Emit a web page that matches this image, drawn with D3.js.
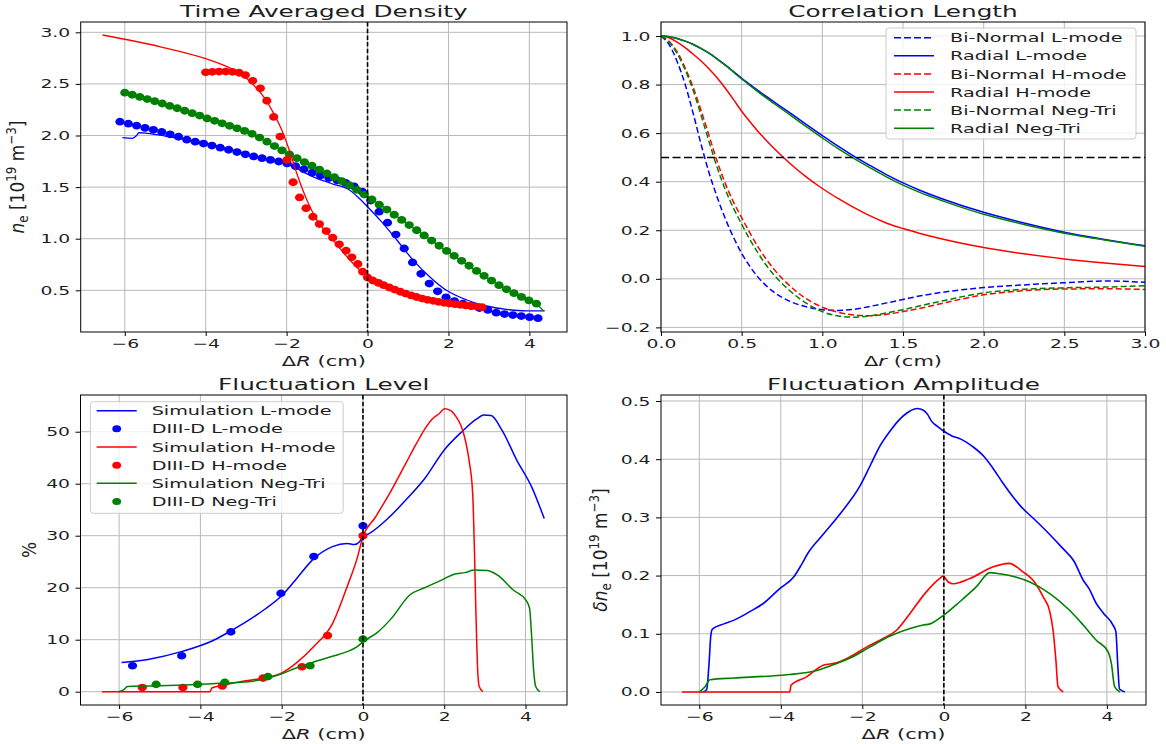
<!DOCTYPE html>
<html>
<head>
<meta charset="utf-8">
<script src="https://cdn.jsdelivr.net/npm/d3@7"></script>
<style>
  body { margin: 0; background: #fff; }
  svg text { font-family: "DejaVu Sans", sans-serif; fill: #1e1e1e; }
</style>
</head>
<body>
<svg id="fig" width="1166" height="744"></svg>
<script>
// ---------------- Time averaged density (x: ΔR cm, y: 1e19 m^-3) ----------------
const densLmodeSim = [[-6.06,1.979],[-5.81,1.973],[-5.72,1.995],[-5.65,2.027],[-5.44,2.021],[-5.0,1.995],[-4.5,1.962],[-4.0,1.925],[-3.5,1.875],[-3.0,1.82],[-2.5,1.765],[-2.0,1.725],[-1.34,1.60],[-0.9,1.535],[-0.43,1.468],[-0.2,1.39],[0.0,1.31],[0.31,1.18],[0.72,0.99],[1.13,0.79],[1.54,0.63],[1.95,0.50],[2.45,0.406],[2.94,0.348],[3.43,0.316],[3.92,0.30],[4.38,0.30]];
const densLmodeExp = [[-6.12,2.134],[-5.913,2.115],[-5.707,2.095],[-5.50,2.074],[-5.294,2.055],[-5.087,2.035],[-4.88,2.012],[-4.674,1.988],[-4.467,1.960],[-4.26,1.940],[-4.054,1.922],[-3.847,1.903],[-3.64,1.882],[-3.434,1.862],[-3.227,1.840],[-3.02,1.818],[-2.814,1.797],[-2.607,1.780],[-2.40,1.764],[-2.194,1.748],[-1.987,1.730],[-1.78,1.702],[-1.574,1.672],[-1.367,1.640],[-1.16,1.612],[-0.954,1.588],[-0.747,1.565],[-0.54,1.540],[-0.334,1.508],[-0.127,1.455],[0.08,1.370],[0.286,1.262],[0.493,1.155],[0.70,1.040],[0.906,0.905],[1.113,0.770],[1.32,0.660],[1.526,0.565],[1.733,0.490],[1.94,0.432],[2.146,0.396],[2.353,0.370],[2.56,0.348],[2.766,0.328],[2.973,0.310],[3.18,0.283],[3.386,0.270],[3.593,0.260],[3.80,0.250],[4.006,0.240],[4.213,0.230]];
const densHmodeSim = [[-6.55,2.974],[-5.12,2.86],[-4.0,2.745],[-3.47,2.667],[-3.14,2.60],[-2.86,2.506],[-2.57,2.376],[-2.32,2.215],[-2.12,2.053],[-1.91,1.83],[-1.75,1.634],[-1.5,1.375],[-1.25,1.18],[-0.92,1.02],[-0.51,0.826],[-0.10,0.665],[0.31,0.59],[0.72,0.51],[1.13,0.457],[1.54,0.415],[1.95,0.383],[2.36,0.358],[2.77,0.338],[2.88,0.333]];
const densHmodeExp = [[-4.00,2.612],[-3.835,2.617],[-3.67,2.62],[-3.505,2.62],[-3.34,2.617],[-3.175,2.608],[-3.02,2.586],[-2.84,2.53],[-2.65,2.457],[-2.49,2.337],[-2.32,2.18],[-2.16,1.99],[-1.99,1.763],[-1.84,1.547],[-1.68,1.40],[-1.52,1.295],[-1.35,1.213],[-1.19,1.142],[-1.02,1.074],[-0.86,1.01],[-0.70,0.946],[-0.53,0.884],[-0.39,0.82],[-0.24,0.755],[-0.12,0.68],[0.0,0.625],[0.13,0.595],[0.27,0.572],[0.40,0.55],[0.54,0.527],[0.67,0.507],[0.81,0.486],[0.94,0.468],[1.08,0.45],[1.21,0.435],[1.35,0.42],[1.48,0.408],[1.62,0.398],[1.75,0.388],[1.89,0.379],[2.02,0.372],[2.16,0.366],[2.29,0.36],[2.43,0.354],[2.56,0.348],[2.70,0.342],[2.83,0.336]];
const densNegTriSim = [[-6.0,2.41],[-5.0,2.30],[-4.0,2.17],[-3.0,2.04],[-2.0,1.83],[-1.0,1.63],[0.0,1.41],[1.0,1.14],[2.0,0.87],[3.0,0.61],[3.6,0.47],[4.2,0.36],[4.35,0.30]];
const densNegTriExp = [[-6.00,2.415],[-5.815,2.395],[-5.63,2.374],[-5.445,2.353],[-5.26,2.332],[-5.075,2.310],[-4.89,2.287],[-4.705,2.264],[-4.52,2.240],[-4.335,2.216],[-4.15,2.193],[-3.965,2.166],[-3.78,2.142],[-3.595,2.118],[-3.41,2.094],[-3.225,2.070],[-3.04,2.045],[-2.855,2.016],[-2.67,1.980],[-2.485,1.940],[-2.30,1.898],[-2.115,1.856],[-1.93,1.816],[-1.745,1.780],[-1.56,1.742],[-1.375,1.707],[-1.19,1.670],[-1.005,1.633],[-0.82,1.596],[-0.635,1.558],[-0.45,1.518],[-0.265,1.474],[-0.08,1.428],[0.105,1.380],[0.29,1.330],[0.475,1.282],[0.66,1.232],[0.845,1.182],[1.03,1.132],[1.215,1.082],[1.40,1.032],[1.585,0.982],[1.77,0.932],[1.955,0.882],[2.14,0.834],[2.325,0.786],[2.51,0.738],[2.695,0.688],[2.88,0.640],[3.065,0.594],[3.25,0.550],[3.435,0.510],[3.62,0.472],[3.805,0.436],[3.99,0.402],[4.175,0.370]];

// ---------------- Correlation length (x: Δr cm) ----------------
const corrLag        = [0,0.05,0.1,0.15,0.2,0.25,0.3,0.35,0.4,0.45,0.5,0.55,0.6,0.65,0.7,0.8,0.9,1.0,1.1,1.2,1.3,1.4,1.5,1.6,1.75,2.0,2.25,2.5,2.75,3.0];
const corrBiNormL    = [1.0,0.965,0.895,0.80,0.68,0.55,0.432,0.333,0.245,0.17,0.105,0.052,0.008,-0.027,-0.055,-0.093,-0.115,-0.127,-0.13,-0.125,-0.113,-0.099,-0.085,-0.071,-0.055,-0.036,-0.025,-0.016,-0.009,-0.014];
const corrRadialL    = [1.0,0.997,0.99,0.979,0.965,0.948,0.928,0.905,0.88,0.853,0.826,0.801,0.776,0.752,0.729,0.683,0.636,0.59,0.545,0.503,0.465,0.428,0.395,0.366,0.328,0.274,0.23,0.192,0.162,0.136];
const corrBiNormH    = [1.0,0.978,0.935,0.868,0.787,0.69,0.585,0.48,0.39,0.315,0.252,0.19,0.133,0.083,0.04,-0.03,-0.082,-0.117,-0.138,-0.149,-0.152,-0.146,-0.135,-0.122,-0.1,-0.066,-0.049,-0.042,-0.041,-0.044];
const corrRadialH    = [1.0,0.993,0.975,0.952,0.925,0.896,0.863,0.826,0.784,0.738,0.69,0.648,0.608,0.572,0.538,0.475,0.42,0.372,0.33,0.292,0.258,0.229,0.207,0.188,0.163,0.129,0.103,0.082,0.065,0.051];
const corrBiNormNT   = [1.0,0.975,0.928,0.86,0.775,0.67,0.56,0.455,0.365,0.29,0.225,0.163,0.108,0.058,0.016,-0.05,-0.1,-0.135,-0.153,-0.158,-0.152,-0.14,-0.127,-0.112,-0.09,-0.058,-0.043,-0.037,-0.034,-0.028];
const corrRadialNT   = [1.0,0.997,0.99,0.979,0.965,0.948,0.928,0.904,0.879,0.851,0.823,0.797,0.771,0.746,0.722,0.675,0.627,0.58,0.535,0.494,0.456,0.419,0.386,0.357,0.32,0.266,0.224,0.188,0.16,0.134];
const corrLabels     = ["Bi-Normal L-mode","Radial L-mode","Bi-Normal H-mode","Radial H-mode","Bi-Normal Neg-Tri","Radial Neg-Tri"];
const corrThreshold  = 0.5;

// ---------------- Fluctuation level (%) ----------------
const flucLmodeSim = [[-5.94,5.6],[-5.29,6.2],[-4.47,7.7],[-3.70,9.8],[-3.25,11.7],[-2.80,13.8],[-2.39,16.0],[-2.02,18.3],[-1.66,21.5],[-1.21,25.6],[-0.75,27.9],[-0.39,28.5],[-0.21,28.3],[-0.08,28.9],[0.0,29.8],[0.15,30.4],[0.61,33.3],[1.06,36.9],[1.52,41.0],[2.0,46.5],[2.42,49.9],[2.79,52.4],[2.97,53.2],[3.15,53.1],[3.42,50.3],[3.78,44.6],[4.15,39.4],[4.46,33.3]];
const flucLmodeExp = [[-5.67,5.0],[-4.46,6.9],[-3.25,11.5],[-2.02,18.9],[-1.21,26.0],[0.0,31.9]];
const flucHmodeSim = [[-6.42,0],[-3.76,0],[-3.72,0.7],[-3.4,1.3],[-3.02,1.9],[-2.48,2.6],[-2.02,3.5],[-1.66,5.4],[-1.21,8.7],[-0.75,13.1],[-0.39,20.2],[-0.15,25.5],[0.0,29.8],[0.3,33.5],[0.61,37.5],[1.06,44.0],[1.30,47.5],[1.52,50.5],[1.70,52.4],[1.88,53.5],[2.01,54.4],[2.15,54.1],[2.28,53.0],[2.42,51.0],[2.53,48.0],[2.62,44.0],[2.70,38.0],[2.74,28.0],[2.78,15.0],[2.82,4.5],[2.86,1.0],[2.95,0]];
const flucHmodeExp = [[-5.43,0.8],[-4.43,0.8],[-3.46,1.1],[-2.46,2.6],[-1.50,4.8],[-0.87,10.8],[0.0,30.0]];
const flucNegTriSim = [[-6.02,0],[-5.90,0.3],[-5.79,1.0],[-5.29,1.1],[-4.38,1.3],[-3.48,1.6],[-2.57,2.2],[-2.02,3.4],[-1.66,4.5],[-1.21,5.7],[-0.75,6.8],[-0.39,7.7],[-0.15,8.6],[0.0,9.6],[0.34,11.3],[0.70,14.1],[1.15,18.6],[1.52,20.0],[1.97,21.6],[2.24,22.6],[2.51,22.9],[2.74,23.4],[3.06,23.3],[3.33,22.3],[3.69,19.6],[4.01,17.6],[4.10,16.0],[4.15,10.6],[4.20,4.0],[4.25,1.0],[4.35,0]];
const flucNegTriExp = [[-5.09,1.4],[-4.07,1.4],[-3.40,1.8],[-2.34,2.9],[-1.30,5.0],[0.0,10.1]];
const flucLabels = ["Simulation L-mode","DIII-D L-mode","Simulation H-mode","DIII-D H-mode","Simulation Neg-Tri","DIII-D Neg-Tri"];

// ---------------- Fluctuation amplitude (1e19 m^-3) ----------------
const ampLmode = [[-5.91,0],[-5.82,0.004],[-5.76,0.05],[-5.72,0.095],[-5.68,0.108],[-5.40,0.117],[-5.16,0.123],[-4.76,0.138],[-4.43,0.152],[-4.02,0.178],[-3.69,0.197],[-3.50,0.218],[-3.34,0.238],[-2.97,0.27],[-2.50,0.31],[-2.05,0.355],[-1.80,0.39],[-1.59,0.42],[-1.30,0.45],[-1.13,0.465],[-0.85,0.482],[-0.65,0.487],[-0.50,0.484],[-0.40,0.477],[-0.30,0.465],[-0.15,0.456],[0.0,0.448],[0.20,0.44],[0.43,0.434],[0.70,0.422],[0.98,0.405],[1.20,0.385],[1.44,0.36],[1.70,0.335],[1.90,0.318],[2.20,0.298],[2.55,0.274],[2.90,0.248],[3.19,0.225],[3.42,0.192],[3.56,0.178],[3.74,0.152],[3.92,0.135],[4.15,0.115],[4.22,0.104],[4.27,0.043],[4.31,0.005],[4.44,0]];
const ampHmode = [[-6.43,0],[-3.78,0],[-3.75,0.0115],[-3.37,0.026],[-2.96,0.046],[-2.63,0.05],[-2.31,0.06],[-1.90,0.077],[-1.49,0.092],[-1.16,0.106],[-0.83,0.135],[-0.43,0.172],[-0.10,0.195],[-0.02,0.199],[0.11,0.189],[0.23,0.186],[0.64,0.195],[1.21,0.215],[1.60,0.221],[1.95,0.206],[2.19,0.192],[2.44,0.163],[2.60,0.138],[2.68,0.106],[2.75,0.054],[2.80,0.009],[2.93,0]];
const ampNegTri = [[-6.0,0],[-5.86,0.009],[-5.74,0.021],[-5.16,0.024],[-4.35,0.027],[-3.78,0.030],[-3.12,0.037],[-2.63,0.049],[-2.22,0.061],[-1.82,0.077],[-1.32,0.096],[-0.83,0.109],[-0.51,0.115],[-0.34,0.117],[0.0,0.132],[0.39,0.155],[0.80,0.181],[1.13,0.205],[1.37,0.203],[1.78,0.197],[2.11,0.189],[2.60,0.169],[3.09,0.14],[3.42,0.115],[3.74,0.089],[4.03,0.069],[4.11,0.049],[4.19,0.009],[4.32,0]];

// ---------------- tick values ----------------
const ticksR     = [-6,-4,-2,0,2,4];
const ticksDens  = [0.5,1.0,1.5,2.0,2.5,3.0];
const ticksLag   = [0,0.5,1.0,1.5,2.0,2.5,3.0];
const ticksCorr  = [-0.2,0,0.2,0.4,0.6,0.8,1.0];
const ticksPct   = [0,10,20,30,40,50];
const ticksAmp   = [0,0.1,0.2,0.3,0.4,0.5];

const COL = { L: "#0000ff", H: "#ff0000", N: "#008000" };
const SX = 1.5;            // horizontal widening applied to all horizontal text
const svg = d3.select("#fig");

function widen(sel) {
  sel.each(function () {
    const t = d3.select(this);
    const x = +(t.attr("x") || 0);
    t.attr("transform", `translate(${x},0) scale(${SX},1) translate(${-x},0)`);
  });
}

function mathText(sel, parts, fs) {
  let shift = 0;
  parts.forEach(p => {
    let target = 0, size = fs;
    if (p.sub) { target = 0.22 * fs; size = 0.7 * fs; }
    if (p.sup) { target = -0.42 * fs; size = 0.7 * fs; }
    const ts = sel.append("tspan").text(p.t).attr("font-size", size);
    if (target !== shift) ts.attr("dy", target - shift);
    if (p.it) ts.attr("font-style", "italic");
    shift = target;
  });
}

let clipCount = 0;
function makePanel(o) {
  const x = d3.scaleLinear().domain(o.xd).range([o.L, o.R]);
  const y = d3.scaleLinear().domain(o.yd).range([o.B, o.T]);
  const g = svg.append("g");
  const id = "clip" + (clipCount++);
  g.append("clipPath").attr("id", id).append("rect")
    .attr("x", o.L).attr("y", o.T).attr("width", o.R - o.L).attr("height", o.B - o.T);
  const grid = g.append("g").attr("stroke", "#b8b8b8").attr("stroke-width", 1);
  grid.selectAll(".gx").data(o.xt).join("line")
    .attr("x1", d => x(d)).attr("x2", d => x(d)).attr("y1", o.T).attr("y2", o.B);
  grid.selectAll(".gy").data(o.yt).join("line")
    .attr("y1", d => y(d)).attr("y2", d => y(d)).attr("x1", o.L).attr("x2", o.R);
  const plot = g.append("g").attr("clip-path", `url(#${id})`);
  return { x, y, g, plot, o };
}

function finishPanel(p, title, xlabelParts, ylabel) {
  const { o, x, y, g } = p;
  g.append("rect").attr("x", o.L).attr("y", o.T).attr("width", o.R - o.L).attr("height", o.B - o.T)
    .attr("fill", "none").attr("stroke", "#000").attr("stroke-width", 1);
  const ax = g.append("g").attr("transform", `translate(0,${o.B})`)
    .call(d3.axisBottom(x).tickValues(o.xt).tickFormat(d3.format(o.xf)).tickSize(4).tickPadding(3.5));
  const ay = g.append("g").attr("transform", `translate(${o.L},0)`)
    .call(d3.axisLeft(y).tickValues(o.yt).tickFormat(d3.format(o.yf)).tickSize(5).tickPadding(5.5));
  [ax, ay].forEach(a => {
    a.select(".domain").remove();
    a.attr("font-family", null).attr("font-size", null);
    a.selectAll("text").attr("font-size", 12.5).attr("fill", "#1e1e1e");
    a.selectAll("line").attr("stroke", "#000");
    widen(a.selectAll("text"));
  });
  const t = g.append("text").attr("x", (o.L + o.R) / 2).attr("y", o.T - 5)
    .attr("text-anchor", "middle").attr("font-size", 16.5).text(title);
  widen(t);
  const xl = g.append("text").attr("x", (o.L + o.R) / 2).attr("y", o.B + 34)
    .attr("text-anchor", "middle");
  mathText(xl, xlabelParts, 14);
  widen(xl);
  if (ylabel) {
    const yl = g.append("g").attr("transform", `translate(${ylabel.x},${(o.T + o.B) / 2})`)
      .append("text").attr("text-anchor", "middle")
      .attr("transform", "rotate(-90) scale(1,1.15)");
    mathText(yl, ylabel.parts, ylabel.fs);
  }
}

const line = (p) => d3.line().x(d => p.x(d[0])).y(d => p.y(d[1])).curve(d3.curveMonotoneX);

function drawLine(p, data, color, dash, width) {
  p.plot.append("path").datum(data).attr("d", line(p)).attr("fill", "none")
    .attr("stroke", color).attr("stroke-width", width || 1.5)
    .attr("stroke-dasharray", dash || null).attr("stroke-linejoin", "round");
}
function drawDots(p, data, color, rx, ry) {
  p.plot.append("g").selectAll("ellipse").data(data).join("ellipse")
    .attr("cx", d => p.x(d[0])).attr("cy", d => p.y(d[1]))
    .attr("rx", rx).attr("ry", ry).attr("fill", color);
}
function zeroLine(p) {
  p.plot.append("line").attr("x1", p.x(0)).attr("x2", p.x(0)).attr("y1", p.o.T).attr("y2", p.o.B)
    .attr("stroke", "#000").attr("stroke-width", 1.6).attr("stroke-dasharray", "4.5,2.2");
}

const xlabR = [{ t: "Δ" }, { t: "R", it: true }, { t: " (cm)" }];
const xlabr = [{ t: "Δ" }, { t: "r", it: true }, { t: " (cm)" }];
const ylabNe = [{ t: "n", it: true }, { t: "e", sub: true }, { t: " [10" }, { t: "19", sup: true }, { t: " m" }, { t: "−3", sup: true }, { t: "]" }];
const ylabDne = [{ t: "δ", it: true }, { t: "n", it: true }, { t: "e", sub: true }, { t: " [10" }, { t: "19", sup: true }, { t: " m" }, { t: "−3", sup: true }, { t: "]" }];

// ---- panel: time averaged density ----
const p1 = makePanel({ L: 80.7, R: 567, T: 22, B: 332, xd: [-7.09, 4.93], yd: [0.096, 3.1],
  xt: ticksR, yt: ticksDens, xf: "d", yf: ".1f" });
drawDots(p1, densLmodeExp, COL.L, 4.6, 3.9);
drawLine(p1, densLmodeSim, COL.L, null, 1.3);
drawDots(p1, densNegTriExp, COL.N, 4.6, 3.9);
drawLine(p1, densNegTriSim, COL.N, null, 1.3);
drawDots(p1, densHmodeExp, COL.H, 4.6, 3.9);
drawLine(p1, densHmodeSim, COL.H, null, 1.3);
zeroLine(p1);
finishPanel(p1, "Time Averaged Density", xlabR, { x: 24, parts: ylabNe, fs: 17 });

// ---- panel: correlation length ----
const p2 = makePanel({ L: 661, R: 1145, T: 22, B: 332, xd: [0, 3], yd: [-0.219, 1.0577],
  xt: ticksLag, yt: ticksCorr, xf: ".1f", yf: ".1f" });
const corrSeries = [
  { y: corrBiNormL, c: COL.L, dash: "6,3" },
  { y: corrRadialL, c: COL.L, dash: null },
  { y: corrBiNormH, c: COL.H, dash: "6,3" },
  { y: corrRadialH, c: COL.H, dash: null },
  { y: corrBiNormNT, c: COL.N, dash: "6,3" },
  { y: corrRadialNT, c: COL.N, dash: null }
];
corrSeries.forEach(s => drawLine(p2, corrLag.map((v, i) => [v, s.y[i]]), s.c, s.dash, 1.5));
p2.plot.append("line").attr("x1", p2.o.L).attr("x2", p2.o.R)
  .attr("y1", p2.y(corrThreshold)).attr("y2", p2.y(corrThreshold))
  .attr("stroke", "#000").attr("stroke-width", 1.5).attr("stroke-dasharray", "8,3.5");
finishPanel(p2, "Correlation Length", xlabr, null);

// legend for correlation panel
{
  const lg = svg.append("g");
  lg.append("rect").attr("x", 886).attr("y", 28).attr("width", 250).attr("height", 111).attr("rx", 3)
    .attr("fill", "#fff").attr("fill-opacity", 0.8).attr("stroke", "#cccccc");
  corrSeries.forEach((s, i) => {
    const yy = 37.7 + i * 18.1;
    lg.append("line").attr("x1", 894).attr("x2", 934).attr("y1", yy).attr("y2", yy)
      .attr("stroke", s.c).attr("stroke-width", 1.5).attr("stroke-dasharray", s.dash ? "7,3" : null);
    const t = lg.append("text").attr("x", 950).attr("y", yy).attr("dy", "0.36em")
      .attr("font-size", 12.8).text(corrLabels[i]);
    widen(t);
  });
}

// ---- panel: fluctuation level ----
const p3 = makePanel({ L: 80.5, R: 567, T: 395, B: 705, xd: [-6.95, 5.02], yd: [-2.56, 57.06],
  xt: ticksR, yt: ticksPct, xf: "d", yf: "d" });
const flucSeries = [
  { d: flucLmodeSim, c: COL.L, kind: "line" },
  { d: flucLmodeExp, c: COL.L, kind: "dot" },
  { d: flucHmodeSim, c: COL.H, kind: "line" },
  { d: flucHmodeExp, c: COL.H, kind: "dot" },
  { d: flucNegTriSim, c: COL.N, kind: "line" },
  { d: flucNegTriExp, c: COL.N, kind: "dot" }
];
flucSeries.forEach(s => s.kind === "line" ? drawLine(p3, s.d, s.c, null, 1.5) : drawDots(p3, s.d, s.c, 4.6, 3.8));
zeroLine(p3);
finishPanel(p3, "Fluctuation Level", xlabR, { x: 36, parts: [{ t: "%" }], fs: 17 });

// legend for fluctuation level panel
{
  const lg = svg.append("g");
  lg.append("rect").attr("x", 90.4).attr("y", 401.7).attr("width", 252.8).attr("height", 111.6).attr("rx", 3)
    .attr("fill", "#fff").attr("fill-opacity", 0.8).attr("stroke", "#cccccc");
  flucSeries.forEach((s, i) => {
    const yy = 410.7 + i * 18.15;
    if (s.kind === "line") {
      lg.append("line").attr("x1", 96.7).attr("x2", 136.7).attr("y1", yy).attr("y2", yy)
        .attr("stroke", s.c).attr("stroke-width", 1.5);
    } else {
      lg.append("ellipse").attr("cx", 116.7).attr("cy", yy).attr("rx", 4.4).attr("ry", 3.5).attr("fill", s.c);
    }
    const t = lg.append("text").attr("x", 151.7).attr("y", yy).attr("dy", "0.36em")
      .attr("font-size", 12.8).text(flucLabels[i]);
    widen(t);
  });
}

// ---- panel: fluctuation amplitude ----
const p4 = makePanel({ L: 661, R: 1146, T: 395, B: 705, xd: [-6.94, 4.96], yd: [-0.0224, 0.5103],
  xt: ticksR, yt: ticksAmp, xf: "d", yf: ".1f" });
drawLine(p4, ampLmode, COL.L, null, 1.6);
drawLine(p4, ampHmode, COL.H, null, 1.6);
drawLine(p4, ampNegTri, COL.N, null, 1.6);
zeroLine(p4);
finishPanel(p4, "Fluctuation Amplitude", xlabR, { x: 607, parts: ylabDne, fs: 17 });
</script>
</body>
</html>
